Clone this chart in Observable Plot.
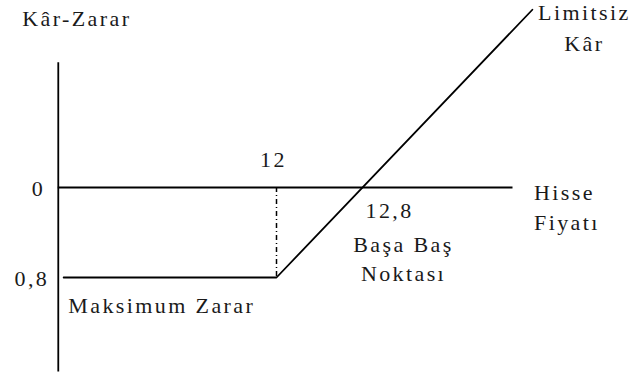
<!DOCTYPE html>
<html>
<head>
<meta charset="utf-8">
<script src="https://cdn.jsdelivr.net/npm/d3@7"></script>
<script src="https://cdn.jsdelivr.net/npm/@observablehq/plot@0.6"></script>
<style>
  html, body { margin: 0; padding: 0; background: #fff; }
  svg { display: block; }
  svg text { letter-spacing: 2.4px; font-family: "Liberation Serif", "Times New Roman", serif !important; }
</style>
</head>
<body>
<div id="chart"></div>
<script>
// Values (price units / profit-loss units)
const strike = 12;          // "12"
const premium = 0.8;        // "0,8"
const breakeven = 12.8;     // "12,8"
const axisPrice = 9.97;     // where the vertical Kâr-Zarar axis stands
const axisTop = 1.11;
const axisBottom = -1.64;
const zeroLineEnd = 14.2;

// payoff line of the long call
const payoffPrices = [10.02, 12, 14.38];
const payoffValues = [-0.8, -0.8, 1.58];

// labels
const yLabel = "Kâr-Zarar";
const xLabel = "Hisse\nFiyatı";
const profitLabel = "Limitsiz\nKâr";
const lossLabel = "Maksimum Zarar";
const breakevenLabel = "Başa Baş\nNoktası";
const zeroTick = "0";
const premiumTick = "0,8";
const strikeTick = "12";
const breakevenTick = "12,8";

const payoff = payoffPrices.map((p, i) => ({price: p, value: payoffValues[i]}));
const last = payoff[payoff.length - 1];

const font = "Liberation Serif";
const fs = 22;
const common = {fontFamily: font, fontSize: fs, fill: "#1a1a1a", lineAnchor: "top"};

const chart = Plot.plot({
  width: 631,
  height: 381,
  marginTop: 0, marginRight: 0, marginBottom: 0, marginLeft: 0,
  x: {domain: [10, 15], range: [61, 598.5], axis: null},
  y: {domain: [-1.7, 1.7], range: [378.25, -4.25], axis: null},
  style: {background: "#fff", overflow: "visible", fontFamily: "Liberation Serif"},
  marks: [
    Plot.ruleX([axisPrice], {y1: axisBottom, y2: axisTop, stroke: "#000", strokeWidth: 1.8}),
    Plot.ruleY([0], {x1: axisPrice, x2: zeroLineEnd, stroke: "#000", strokeWidth: 1.8}),
    Plot.ruleX([strike], {y1: 0, y2: -premium, stroke: "#000", strokeWidth: 1.5, strokeDasharray: "5,3,1,3"}),
    Plot.line(payoff, {x: "price", y: "value", stroke: "#000", strokeWidth: 1.8}),

    Plot.text([yLabel], {...common, x: axisPrice, y: axisTop, textAnchor: "start", dx: -36, dy: -52.6, text: d => d}),
    Plot.text([zeroTick], {...common, x: axisPrice, y: 0, textAnchor: "end", dx: -13, dy: -7.6, text: d => d}),
    Plot.text([premiumTick], {...common, x: axisPrice, y: -premium, textAnchor: "end", dx: -9, dy: -7.6, text: d => d}),
    Plot.text([strikeTick], {...common, x: strike, y: 0, textAnchor: "middle", dx: -3, dy: -36.6, text: d => d}),
    Plot.text([breakevenTick], {...common, x: breakeven, y: 0, textAnchor: "start", dx: 3, dy: 14.4, text: d => d}),
    Plot.text([breakevenLabel], {...common, x: breakeven, y: 0, textAnchor: "middle", dx: 41, dy: 44.4, lineHeight: 29 / 22, text: d => d}),
    Plot.text([xLabel], {...common, x: zeroLineEnd, y: 0, textAnchor: "start", dx: 21, dy: -8.3, lineHeight: 30 / 22, text: d => d}),
    Plot.text([profitLabel], {...common, x: last.price, y: last.value, textAnchor: "middle", dx: 52, dy: -12, lineHeight: 31 / 22, text: d => d}),
    Plot.text([lossLabel], {...common, x: axisPrice, y: -premium, textAnchor: "start", dx: 10, dy: 19.4, text: d => d})
  ]
});
document.getElementById("chart").appendChild(chart);
</script>
</body>
</html>
